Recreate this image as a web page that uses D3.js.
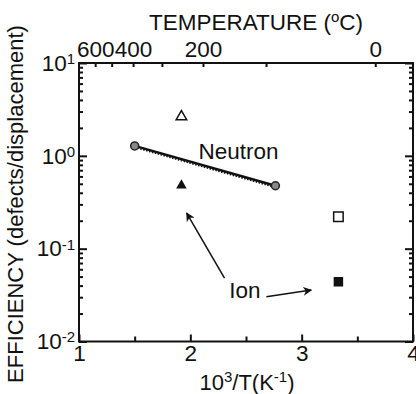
<!DOCTYPE html>
<head>
    <meta charset="utf-8">
    <script src="https://d3js.org/d3.v7.min.js"></script>
    <style>
        body { margin: 0; background: #fff; }
        text { font-family: "Liberation Sans", Arial, sans-serif; fill: #111; }
    </style>
</head>

<body>
    <div id="chart"></div>
</body>

<script>

    // data
    const neutron = [[1.5, 1.28], [2.764, 0.476]];
    const neutronFit = [[1.5, 1.25], [2.764, 0.462]];
    const ionOpen = [[1.92, 2.64], [3.33, 0.221]];   // triangle, square (open)
    const ionFilled = [[1.92, 0.48], [3.33, 0.044]]; // triangle, square (filled)
    const ionShapes = ["triangle", "square"];

    const xTicks = [1, 2, 3, 4];
    const xMinor = [1.5, 2.5, 3.5];
    const yExp = [-2, -1, 0, 1];
    const tempTicks = [600, 500, 400, 300, 200, 100, 0];
    const tempLabels = [600, 400, 200, 0];

    const arrows = [[[2.307, 0.0482], [1.967, 0.242]], [[2.683, 0.0303], [3.086, 0.0358]]];

    const W = 416, H = 394;
    const margin = {top: 63, right: 3, bottom: 52.5, left: 79};

    const svg = d3.select("#chart")
        .append("svg")
            .attr("width", W)
            .attr("height", H);

    const x = d3.scaleLinear()
        .domain([1, 4])
        .range([margin.left, W - margin.right]);

    const y = d3.scaleLog()
        .domain([0.01, 10])
        .range([H - margin.bottom, margin.top]);

    const fs = 22.5, sup = 15;

    // bottom axis
    svg.append('g')
        .attr('transform', `translate(0, ${H - margin.bottom})`)
        .call(d3.axisBottom(x).tickValues(xTicks).tickSize(-7).tickSizeOuter(0).tickPadding(4).tickFormat(d3.format("d")));
    svg.append('g')
        .attr('transform', `translate(0, ${H - margin.bottom})`)
        .call(d3.axisBottom(x).tickValues(xMinor).tickSize(-5).tickSizeOuter(0).tickFormat(""));

    // top axis: temperature in C
    const tx = d => 1000 / (d + 273.15);
    svg.append('g')
        .attr('transform', `translate(0, ${margin.top})`)
        .call(d3.axisTop(x).tickValues(tempTicks.map(tx)).tickSize(-4).tickSizeOuter(0).tickPadding(6)
            .tickFormat(v => {
                const t = Math.round(1000 / v - 273.15);
                return tempLabels.includes(t) ? t : "";
            }));

    // left / right log axes
    const minors = [];
    yExp.slice(0, -1).forEach(e => {
        for (let m = 2; m < 10; m++) minors.push(m * Math.pow(10, e));
    });
    const majors = yExp.map(e => Math.pow(10, e));

    const ly = svg.append('g')
        .attr('transform', `translate(${margin.left}, 0)`)
        .call(d3.axisLeft(y).tickValues(majors).tickSize(-8).tickSizeOuter(0).tickPadding(4).tickFormat(""));
    svg.append('g')
        .attr('transform', `translate(${margin.left}, 0)`)
        .call(d3.axisLeft(y).tickValues(minors).tickSize(-4).tickSizeOuter(0).tickFormat(""));
    svg.append('g')
        .attr('transform', `translate(${W - margin.right}, 0)`)
        .call(d3.axisRight(y).tickValues(majors).tickSize(-8).tickSizeOuter(0).tickFormat(""));
    svg.append('g')
        .attr('transform', `translate(${W - margin.right}, 0)`)
        .call(d3.axisRight(y).tickValues(minors).tickSize(-4).tickSizeOuter(0).tickFormat(""));

    // 10^n labels with superscripts
    ly.selectAll('.tick text').each(function(d) {
        const t = d3.select(this);
        t.append('tspan').text('10');
        t.append('tspan').attr('dy', '-0.45em').attr('font-size', sup).text(Math.round(Math.log10(d)));
    });

    svg.selectAll('.domain').remove();
    svg.selectAll('.tick line').attr('stroke', '#111').attr('stroke-width', 2);
    svg.selectAll('.tick text').attr('font-size', fs).attr('font-family', '"Liberation Sans", Arial, sans-serif').attr('fill', '#111');

    // frame
    svg.append('rect')
        .attr('x', x(1)).attr('y', y(10))
        .attr('width', x(4) - x(1)).attr('height', y(0.01) - y(10))
        .attr('fill', 'none').attr('stroke', '#111').attr('stroke-width', 2);

    // axis titles
    const xt = svg.append('text')
        .attr('x', 247).attr('y', 390)
        .attr('text-anchor', 'middle').attr('font-size', 22);
    xt.append('tspan').text('10');
    xt.append('tspan').attr('dy', -8).attr('font-size', sup).text('3');
    xt.append('tspan').attr('dy', 8).text('/T(K');
    xt.append('tspan').attr('dy', -8).attr('font-size', sup).text('-1');
    xt.append('tspan').attr('dy', 8).text(')');

    const tt = svg.append('text')
        .attr('x', 256).attr('y', 30)
        .attr('text-anchor', 'middle').attr('font-size', fs);
    tt.append('tspan').text('TEMPERATURE (');
    tt.append('tspan').attr('dy', -8).attr('font-size', sup).text('o');
    tt.append('tspan').attr('dy', 8).text('C)');

    svg.append('text')
        .attr('transform', `translate(23, 204) rotate(-90)`)
        .attr('text-anchor', 'middle').attr('font-size', 22)
        .text('EFFICIENCY (defects/displacement)');

    // neutron line
    const line = d3.line().x(d => x(d[0])).y(d => y(d[1]));
    svg.append('path')
        .datum(neutron)
        .attr('fill', 'none').attr('stroke', '#111').attr('stroke-width', 2.5)
        .attr('d', line);
    svg.append('path')
        .datum(neutronFit)
        .attr('fill', 'none').attr('stroke', '#111').attr('stroke-width', 2.5)
        .attr('stroke-dasharray', '1.5,1.5')
        .attr('d', line);
    svg.selectAll('.ncirc')
        .data(neutron)
        .join('circle')
            .attr('cx', d => x(d[0]))
            .attr('cy', d => y(d[1]))
            .attr('r', 4)
            .attr('fill', '#888')
            .attr('stroke', '#222')
            .attr('stroke-width', 1.5);

    // ion points
    const sym = s => d3.symbol().type(s === "triangle" ? d3.symbolTriangle : d3.symbolSquare).size(s === "triangle" ? 48 : 90)();
    svg.selectAll('.iopen')
        .data(ionOpen)
        .join('path')
            .attr('transform', d => `translate(${x(d[0])}, ${y(d[1])})`)
            .attr('d', (d, i) => sym(ionShapes[i]))
            .attr('fill', '#fff').attr('stroke', '#111').attr('stroke-width', 1.5);
    svg.selectAll('.ifill')
        .data(ionFilled)
        .join('path')
            .attr('transform', d => `translate(${x(d[0])}, ${y(d[1])})`)
            .attr('d', (d, i) => sym(ionShapes[i]))
            .attr('fill', '#111');

    // arrows
    svg.append('defs').append('marker')
        .attr('id', 'arr').attr('viewBox', '0 0 10 10')
        .attr('refX', 9).attr('refY', 5)
        .attr('markerWidth', 9).attr('markerHeight', 9)
        .attr('markerUnits', 'userSpaceOnUse')
        .attr('orient', 'auto')
        .append('path').attr('d', 'M0,0 L10,5 L0,10 L3,5 z').attr('fill', '#111');
    svg.selectAll('.arrow')
        .data(arrows)
        .join('path')
            .attr('d', line)
            .attr('fill', 'none').attr('stroke', '#111').attr('stroke-width', 1.5)
            .attr('marker-end', 'url(#arr)');

    // labels
    svg.append('text')
        .attr('x', x(2.074)).attr('y', y(0.925))
        .attr('font-size', fs).attr('fill', '#333')
        .text('Neutron');
    svg.append('text')
        .attr('x', x(2.35)).attr('y', y(0.0294))
        .attr('font-size', fs)
        .text('Ion');

</script>
</html>
